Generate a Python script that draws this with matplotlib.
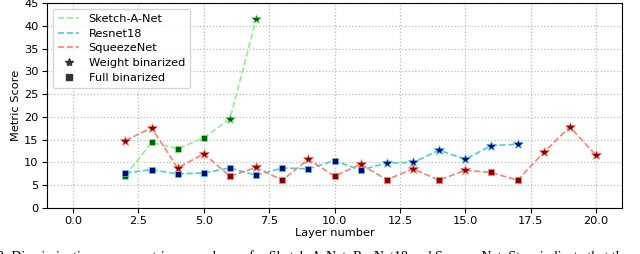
import numpy as np
import matplotlib.pyplot as plt
from matplotlib.lines import Line2D

# Layer indices and metric scores
sketch_layers = [2, 3, 4, 5, 6, 7]
sketch_scores = [7.1, 14.4, 13.0, 15.4, 19.6, 41.4]
sketch_weight = [False, False, False, False, True, True]

resnet_layers = [2, 3, 4, 5, 6, 7, 8, 9, 10, 11, 12, 13, 14, 15, 16, 17]
resnet_scores = [7.7, 8.4, 7.5, 7.7, 8.8, 7.2, 8.8, 8.6, 10.4, 8.3,
                 9.9, 10.0, 12.7, 10.7, 13.7, 14.0]
resnet_weight = [False] * 10 + [True] * 6

squeeze_layers = list(range(2, 21))
squeeze_scores = [14.8, 17.6, 8.8, 11.9, 7.0, 8.9, 6.1, 10.7, 7.0, 9.6,
                  6.2, 8.6, 6.1, 8.3, 7.8, 6.1, 12.2, 17.8, 11.6]
squeeze_weight = [True, True, True, True, False, True, False, True, False, True,
                  False, True, False, True, False, False, True, True, True]

series = [
    ("Sketch-A-Net", sketch_layers, sketch_scores, sketch_weight, "lightgreen", "darkgreen"),
    ("Resnet18", resnet_layers, resnet_scores, resnet_weight, "mediumturquoise", "darkblue"),
    ("SqueezeNet", squeeze_layers, squeeze_scores, squeeze_weight, "salmon", "darkred"),
]

fs = 8.2
fig = plt.figure(figsize=(6.4, 2.54), dpi=100)
ax = fig.add_axes([0.0734, 0.181, 0.8986, 0.807])

for name, xs, ys, wb, lc, mc in series:
    xs = np.array(xs)
    ys = np.array(ys)
    wb = np.array(wb)
    ax.plot(xs, ys, '--', color=lc, lw=1.2, zorder=2)
    ax.plot(xs[wb], ys[wb], '*', ls='none', ms=7.5, mfc=mc, mec=lc, mew=0.5, zorder=3)
    ax.plot(xs[~wb], ys[~wb], 's', ls='none', ms=4.8, mfc=mc, mec=lc, mew=0.5, zorder=3)

ax.set_xlim(-1, 21)
ax.set_ylim(0, 45)
ax.set_xticks([0.0, 2.5, 5.0, 7.5, 10.0, 12.5, 15.0, 17.5, 20.0])
ax.set_yticks(range(0, 50, 5))
ax.tick_params(labelsize=fs, pad=2.5)
ax.grid(True, ls=':', color='#bbbbbb', lw=0.9)
ax.set_axisbelow(True)
ax.set_xlabel("Layer number", fontsize=fs, labelpad=1)
ax.set_ylabel("Metric Score", fontsize=fs, labelpad=2)

handles = [
    Line2D([], [], ls='--', color='lightgreen', lw=1.2),
    Line2D([], [], ls='--', color='mediumturquoise', lw=1.2),
    Line2D([], [], ls='--', color='salmon', lw=1.2),
    Line2D([], [], ls='none', marker='*', color='#333333', ms=6),
    Line2D([], [], ls='none', marker='s', color='#333333', ms=4),
]
labels = ["Sketch-A-Net", "Resnet18", "SqueezeNet", "Weight binarized", "Full binarized"]
ax.legend(handles, labels, loc='upper left', fontsize=fs, framealpha=0.8,
          handlelength=1.9, borderpad=0.45, labelspacing=0.42)

# caption fragment cut off at the bottom of the original image
fig.text(-0.004, 0.016,
         "2: Discriminative power metric across layers for Sketch-A-Net, ResNet18 and SqueezeNet. Stars indicate that the",
         fontsize=10, family='Liberation Serif', ha='left', va='top')

fig.savefig("out.png", dpi=100)
